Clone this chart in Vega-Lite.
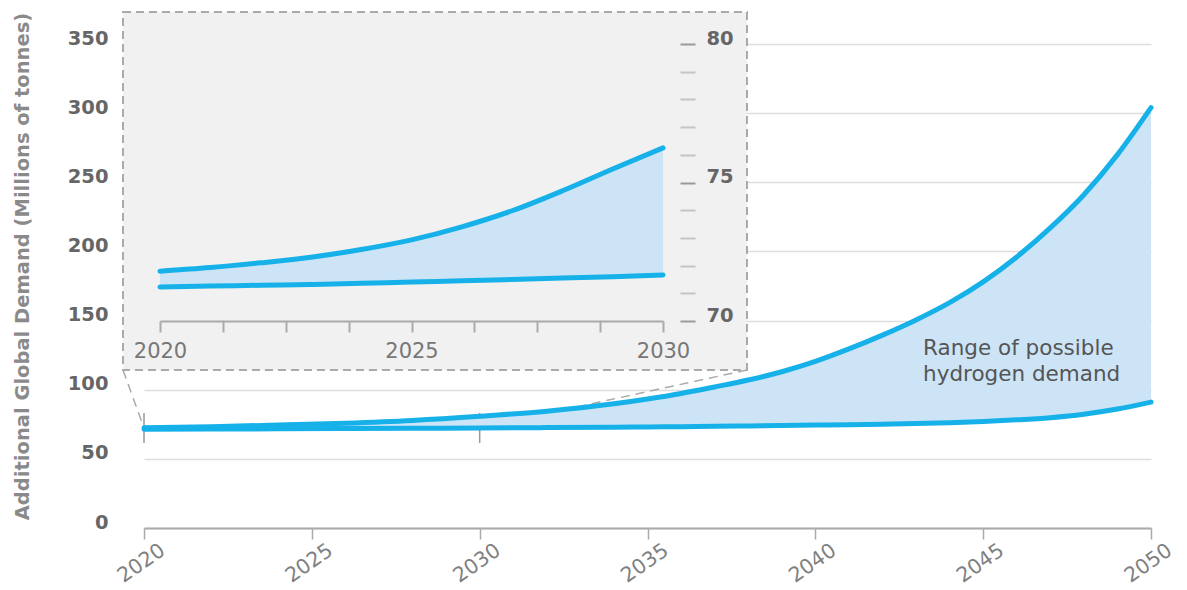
{
  "$schema": "https://vega.github.io/schema/vega-lite/v6.json",
  "width": 1007,
  "height": 484,
  "autosize": {"type": "none"},
  "padding": {"left": 144, "top": 44, "right": 36, "bottom": 62},
  "background": "white",
  "config": {"view": {"stroke": null}},
  "datasets": {
    "main": [
      {"year": 2020, "low": 71.5, "high": 72.5},
      {"year": 2022, "low": 71.6, "high": 73.3},
      {"year": 2024, "low": 71.7, "high": 74.4},
      {"year": 2026, "low": 71.9, "high": 75.8},
      {"year": 2028, "low": 72.1, "high": 77.8},
      {"year": 2030, "low": 72.3, "high": 80.8},
      {"year": 2032, "low": 72.6, "high": 84.5},
      {"year": 2034, "low": 72.9, "high": 89.8},
      {"year": 2035, "low": 73.1, "high": 93.3},
      {"year": 2036, "low": 73.3, "high": 97.3},
      {"year": 2037, "low": 73.5, "high": 102},
      {"year": 2038, "low": 73.8, "high": 107},
      {"year": 2039, "low": 74.1, "high": 113},
      {"year": 2040, "low": 74.4, "high": 120.5},
      {"year": 2041, "low": 74.7, "high": 129.5},
      {"year": 2042, "low": 75.1, "high": 139.5},
      {"year": 2043, "low": 75.6, "high": 150.5},
      {"year": 2044, "low": 76.2, "high": 163},
      {"year": 2045, "low": 77.0, "high": 178},
      {"year": 2046, "low": 78.2, "high": 196},
      {"year": 2047, "low": 79.8, "high": 217},
      {"year": 2048, "low": 82.3, "high": 241},
      {"year": 2049, "low": 86.0, "high": 270},
      {"year": 2050, "low": 91, "high": 304}
    ],
    "inset": [
      {"year": 2020, "low": 71.23, "high": 71.8},
      {"year": 2021, "low": 71.26, "high": 71.93},
      {"year": 2022, "low": 71.29, "high": 72.1},
      {"year": 2023, "low": 71.32, "high": 72.3},
      {"year": 2024, "low": 71.36, "high": 72.58},
      {"year": 2025, "low": 71.41, "high": 72.93},
      {"year": 2026, "low": 71.45, "high": 73.4},
      {"year": 2027, "low": 71.5, "high": 73.98},
      {"year": 2028, "low": 71.55, "high": 74.7},
      {"year": 2029, "low": 71.6, "high": 75.49},
      {"year": 2030, "low": 71.66, "high": 76.25}
    ],
    "one": [{"k": 1}],
    "brackets": [{"year": 2020}, {"year": 2030}]
  },
  "resolve": {"scale": {"x": "independent", "y": "independent"}, "axis": {"x": "independent", "y": "independent"}},
  "layer": [
    {
      "data": {"name": "main"},
      "mark": {"type": "area", "color": "#cde4f7", "interpolate": "monotone"},
      "encoding": {
        "x": {"field": "year", "type": "quantitative",
          "scale": {"domain": [2020, 2050], "nice": false, "zero": false},
          "axis": {"values": [2020, 2025, 2030, 2035, 2040, 2045, 2050], "format": "d", "title": null, "grid": false,
            "domainColor": "#aaaaaa", "domainWidth": 2, "tickColor": "#aaaaaa", "tickWidth": 1.5, "tickSize": 11,
            "labelAngle": -35, "labelAlign": "center", "labelBaseline": "middle", "labelPadding": 24, "labelOffset": -3,
            "labelFont": "DejaVu Sans", "labelFontSize": 20.5, "labelColor": "#808080", "labelFlush": false, "labelOverlap": false}},
        "y": {"field": "low", "type": "quantitative",
          "scale": {"domain": [0, 350], "nice": false, "zero": true},
          "axis": {"values": [0, 50, 100, 150, 200, 250, 300, 350], "grid": true, "gridColor": "#dddddd", "gridWidth": 1.5,
            "domain": false, "ticks": false, "tickSize": 0, "labelPadding": 36, "labelBaseline": "alphabetic",
            "labelFont": "DejaVu Sans", "labelFontWeight": "bold", "labelFontSize": 19.5, "labelColor": "#666666",
            "title": "Additional Global Demand (Millions of tonnes)", "titleFont": "DejaVu Sans", "titleFontWeight": "bold",
            "titleFontSize": 19.5, "titleColor": "#8a8a8a", "titleAngle": -90, "titleAlign": "center", "titleBaseline": "middle",
            "titleX": -122, "titleY": 222}},
        "y2": {"field": "high"}
      }
    },
    {
      "data": {"name": "one"},
      "mark": {"type": "rect", "fill": "#f1f1f1", "stroke": "#aaaaaa", "strokeDash": [8, 5], "strokeWidth": 2},
      "encoding": {
        "x": {"datum": 2019.374, "type": "quantitative", "scale": {"domain": [2020, 2050], "nice": false, "zero": false}, "axis": null},
        "x2": {"datum": 2037.964},
        "y": {"datum": 373.1, "type": "quantitative", "scale": {"domain": [0, 350], "nice": false, "zero": true}, "axis": null},
        "y2": {"datum": 114.25}
      }
    },
    {
      "data": {"name": "one"},
      "mark": {"type": "rule", "color": "#aaaaaa", "strokeDash": [9, 6], "strokeWidth": 1.5},
      "encoding": {
        "x": {"datum": 2019.374, "type": "quantitative", "scale": {"domain": [2020, 2050], "nice": false, "zero": false}, "axis": null},
        "x2": {"datum": 2020},
        "y": {"datum": 114.25, "type": "quantitative", "scale": {"domain": [0, 350], "nice": false, "zero": true}, "axis": null},
        "y2": {"datum": 72.3}
      }
    },
    {
      "data": {"name": "one"},
      "mark": {"type": "rule", "color": "#aaaaaa", "strokeDash": [9, 6], "strokeWidth": 1.5},
      "encoding": {
        "x": {"datum": 2037.964, "type": "quantitative", "scale": {"domain": [2020, 2050], "nice": false, "zero": false}, "axis": null},
        "x2": {"datum": 2030},
        "y": {"datum": 114.25, "type": "quantitative", "scale": {"domain": [0, 350], "nice": false, "zero": true}, "axis": null},
        "y2": {"datum": 72.3}
      }
    },
    {
      "data": {"name": "brackets"},
      "mark": {"type": "rule", "color": "#999999", "strokeWidth": 1.5},
      "encoding": {
        "x": {"field": "year", "type": "quantitative", "scale": {"domain": [2020, 2050], "nice": false, "zero": false}, "axis": null},
        "y": {"datum": 83.2, "type": "quantitative", "scale": {"domain": [0, 350], "nice": false, "zero": true}, "axis": null},
        "y2": {"datum": 61.5}
      }
    },
    {
      "data": {"name": "main"},
      "mark": {"type": "area", "color": "#cde4f7", "interpolate": "monotone"},
      "encoding": {
        "x": {"field": "year", "type": "quantitative", "scale": {"domain": [2020, 2050], "nice": false, "zero": false}, "axis": null},
        "y": {"field": "low", "type": "quantitative", "scale": {"domain": [0, 350], "nice": false, "zero": true}, "axis": null},
        "y2": {"field": "high"}
      }
    },
    {
      "data": {"name": "main"},
      "mark": {"type": "line", "color": "#16b1e8", "strokeWidth": 5, "strokeCap": "round", "interpolate": "monotone"},
      "encoding": {
        "x": {"field": "year", "type": "quantitative", "scale": {"domain": [2020, 2050], "nice": false, "zero": false}, "axis": null},
        "y": {"field": "low", "type": "quantitative", "scale": {"domain": [0, 350], "nice": false, "zero": true}, "axis": null}
      }
    },
    {
      "data": {"name": "main"},
      "mark": {"type": "line", "color": "#16b1e8", "strokeWidth": 5, "strokeCap": "round", "interpolate": "monotone"},
      "encoding": {
        "x": {"field": "year", "type": "quantitative", "scale": {"domain": [2020, 2050], "nice": false, "zero": false}, "axis": null},
        "y": {"field": "high", "type": "quantitative", "scale": {"domain": [0, 350], "nice": false, "zero": true}, "axis": null}
      }
    },
    {
      "data": {"name": "one"},
      "mark": {"type": "text", "text": ["Range of possible", "hydrogen demand"], "align": "left", "baseline": "middle",
        "lineHeight": 26, "font": "DejaVu Sans", "fontSize": 21.5, "color": "#555555"},
      "encoding": {
        "x": {"datum": 2043.21, "type": "quantitative", "scale": {"domain": [2020, 2050], "nice": false, "zero": false}, "axis": null},
        "y": {"datum": 129.4, "type": "quantitative", "scale": {"domain": [0, 350], "nice": false, "zero": true}, "axis": null}
      }
    },
    {
      "data": {"name": "inset"},
      "mark": {"type": "area", "color": "#cde4f7", "interpolate": "monotone"},
      "encoding": {
        "x": {"field": "year", "type": "quantitative",
          "scale": {"domain": [2020, 2030], "range": [16, 519], "nice": false, "zero": false},
          "axis": {"orient": "bottom", "offset": -207, "zindex": 1, "title": null, "grid": false,
            "values": [2020, 2021.25, 2022.5, 2023.75, 2025, 2026.25, 2027.5, 2028.75, 2030],
            "labelExpr": "datum.value % 5 === 0 ? format(datum.value, 'd') : ''",
            "labelFlush": false, "labelOverlap": false,
            "domainColor": "#aaaaaa", "domainWidth": 2, "tickColor": "#aaaaaa", "tickWidth": 2, "tickSize": 11,
            "labelFont": "DejaVu Sans", "labelFontSize": 21, "labelColor": "#777777", "labelPadding": 8}},
        "y": {"field": "low", "type": "quantitative",
          "scale": {"domain": [70, 80], "range": [277, 0], "nice": false, "zero": false},
          "axis": {"orient": "right", "offset": -471, "zindex": 1, "title": null, "grid": false, "domain": false,
            "values": [70, 71, 72, 73, 74, 75, 76, 77, 78, 79, 80],
            "labelExpr": "datum.value % 5 === 0 ? format(datum.value, 'd') : ''",
            "labelFlush": false, "labelOverlap": false,
            "tickSize": 15, "tickWidth": 2,
            "tickColor": {"condition": {"test": "datum.value % 5 === 0", "value": "#9a9a9a"}, "value": "#c4c4c4"},
            "labelBaseline": "alphabetic", "labelPadding": 11,
            "labelFont": "DejaVu Sans", "labelFontWeight": "bold", "labelFontSize": 19.5, "labelColor": "#666666"}},
        "y2": {"field": "high"}
      }
    },
    {
      "data": {"name": "inset"},
      "mark": {"type": "line", "color": "#16b1e8", "strokeWidth": 5, "strokeCap": "round", "interpolate": "monotone"},
      "encoding": {
        "x": {"field": "year", "type": "quantitative", "scale": {"domain": [2020, 2030], "range": [16, 519], "nice": false, "zero": false}, "axis": null},
        "y": {"field": "low", "type": "quantitative", "scale": {"domain": [70, 80], "range": [277, 0], "nice": false, "zero": false}, "axis": null}
      }
    },
    {
      "data": {"name": "inset"},
      "mark": {"type": "line", "color": "#16b1e8", "strokeWidth": 5, "strokeCap": "round", "interpolate": "monotone"},
      "encoding": {
        "x": {"field": "year", "type": "quantitative", "scale": {"domain": [2020, 2030], "range": [16, 519], "nice": false, "zero": false}, "axis": null},
        "y": {"field": "high", "type": "quantitative", "scale": {"domain": [70, 80], "range": [277, 0], "nice": false, "zero": false}, "axis": null}
      }
    }
  ]
}
